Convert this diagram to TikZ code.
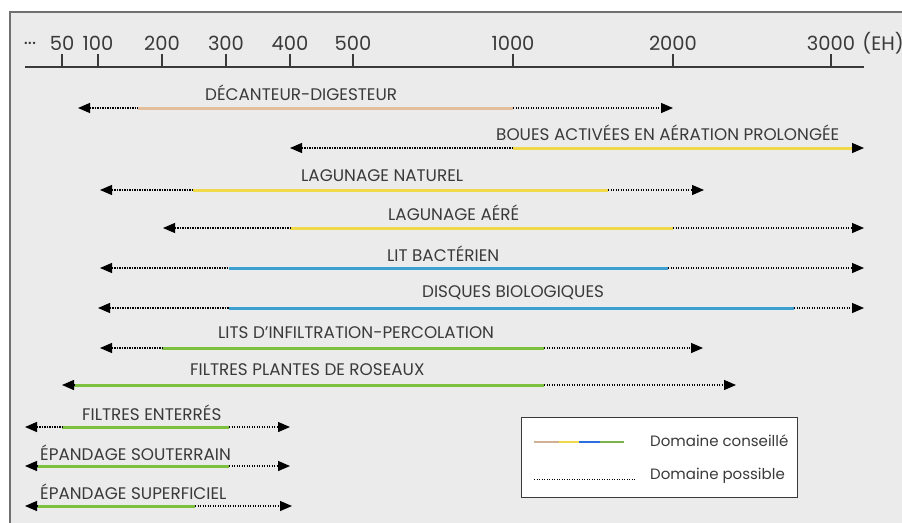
\documentclass[tikz,border=0pt]{standalone}
\usepackage{fontspec}
\setmainfont{Poppins}
\usetikzlibrary{arrows.meta}
\definecolor{bg}{HTML}{EBEBEB}
\definecolor{frame}{HTML}{707070}
\definecolor{txt}{HTML}{3A3A3A}
\definecolor{ctan}{HTML}{E3BE9C}
\definecolor{cyel}{HTML}{EFD94A}
\definecolor{cblu}{HTML}{3C9FCF}
\definecolor{cgrn}{HTML}{7DBF3F}
\tikzset{
  >={Triangle[length=12pt,width=10pt]},
  cons/.style={line width=3pt,draw=#1},
  poss/.style={line width=1.3pt,black,dash pattern=on 1.4pt off 1.1pt},
  lbl/.style={font=\fontsize{16.8}{18}\selectfont,text=txt,inner sep=0pt,anchor=west},
  leglbl/.style={font=\fontsize{15}{17}\selectfont,text=txt,inner sep=0pt,anchor=west},
  num/.style={font=\fontsize{19.5}{21}\selectfont,text=txt,inner sep=0pt},
  tick/.style={line width=1.4pt,draw=txt},
}
\newcommand\plage[7]{%
  \coordinate (#1L) at (#3,#2);
  \coordinate (#1A) at (#4,#2);
  \coordinate (#1B) at (#5,#2);
  \coordinate (#1R) at (#6,#2);
  \draw[cons=#7] (#1A) -- (#1B);
  \draw[poss,<-] (#1L) -- (#1A);
  \draw[poss,->] (#1B) -- (#1R);
}
\begin{document}
\begin{tikzpicture}[x=1pt,y=-1pt]
\useasboundingbox (0,0) rectangle (902,522);
\fill[white] (0,0) rectangle (902,522);
\fill[bg] (10,12) rectangle (904,524);
\draw[frame,line width=2pt] (10,524) -- (10,12) -- (904,12);
% axis
\draw[line width=1.4pt,txt] (25,67) coordinate (ax0) -- (864,67) coordinate (ax1);
\foreach \x/\v in {62/50,98/100,162/200,226/300,290/400,353/500,513/1000,673/2000,831/3000}{
  \draw[tick] (\x,67) -- (\x,54);
  \node[num] (n\v) at (\x,43) {\v};
}
\node[num] (dots) at (30,43) {...};
\node[num] (eh) at (883,43) {(EH)};
% rows
\plage{r1}{108}{78}{138}{513}{673}{ctan}
\node[lbl] (t1) at (205,93) {DÉCANTEUR-DIGESTEUR};
\plage{r2}{148}{290}{513}{852}{864}{cyel}
\node[lbl] (t2) at (496,133) {BOUES ACTIVÉES EN AÉRATION PROLONGÉE};
\plage{r3}{190}{100}{193}{608}{704}{cyel}
\node[lbl] (t3) at (301,176) {LAGUNAGE NATUREL};
\plage{r4}{228}{163}{290}{673}{864}{cyel}
\node[lbl] (t4) at (388,213) {LAGUNAGE AÉRÉ};
\plage{r5}{268}{100}{229}{668}{864}{cblu}
\node[lbl] (t5) at (387,254) {LIT BACTÉRIEN};
\plage{r6}{308}{98}{229}{794}{864}{cblu}
\node[lbl] (t6) at (422,293) {DISQUES BIOLOGIQUES};
\plage{r7}{348}{100}{162}{544}{703}{cgrn}
\node[lbl] (t7) at (218,333) {LITS D'INFILTRATION-PERCOLATION};
\plage{r8}{385}{62}{74}{544}{736}{cgrn}
\node[lbl] (t8) at (190,370) {FILTRES PLANTES DE ROSEAUX};
\plage{r9}{427}{25}{62}{229}{290}{cgrn}
\node[lbl] (t9) at (82,413) {FILTRES ENTERRÉS};
\plage{r10}{466}{25}{37}{229}{290}{cgrn}
\node[lbl] (t10) at (40,453) {ÉPANDAGE SOUTERRAIN};
\plage{r11}{506}{25}{37}{195}{292}{cgrn}
\node[lbl] (t11) at (40,492) {ÉPANDAGE SUPERFICIEL};
% legend
\node[draw=txt,line width=1.3pt,fill=white,minimum width=276pt,minimum height=80pt,anchor=north west,inner sep=0pt] (leg) at (521,417) {};
\coordinate (g0) at (534,442); \coordinate (g1) at (559,442);
\coordinate (g2) at (579,442); \coordinate (g3) at (600,442); \coordinate (g4) at (624,442);
\draw[line width=2.5pt,ctan!80!gray] (g0) -- (g1);
\draw[line width=2.5pt,cyel] (g1) -- (g2);
\draw[line width=2.5pt,cblu!70!blue] (g2) -- (g3);
\draw[line width=2.5pt,cgrn!80!gray] (g3) -- (g4);
\coordinate (d0) at (534,479); \coordinate (d1) at (636,479);
\draw[poss,line width=1pt] (d0) -- (d1);
\node[leglbl] (l1) at (650,441) {Domaine conseillé};
\node[leglbl] (l2) at (650,476) {Domaine possible};
\end{tikzpicture}
\end{document}
